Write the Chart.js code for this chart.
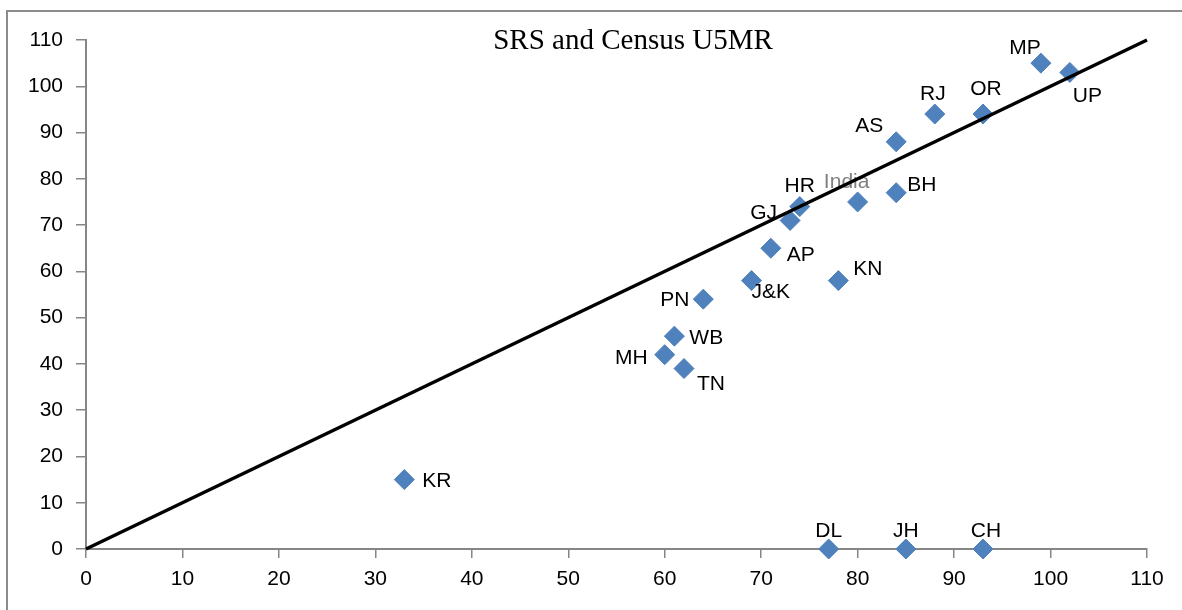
<!DOCTYPE html>
<html>
<head>
<meta charset="utf-8">
<script src="https://cdn.jsdelivr.net/npm/chart.js@4.4.1/dist/chart.umd.min.js"></script>
<style>
    html, body { margin: 0; padding: 0; background: #fff; }
    #wrap { width: 1182px; height: 610px; position: relative; }
</style>
</head>
<body>
<div id="wrap"><canvas id="u5mrChart" width="1182" height="610"></canvas></div>
<script>
// States and their under-five mortality rates (SRS on x, Census on y)
const states = ['KR', 'DL', 'JH', 'CH', 'MH', 'WB', 'TN', 'PN', 'J&K', 'AP',
                'GJ', 'HR', 'India', 'KN', 'BH', 'AS', 'RJ', 'OR', 'MP', 'UP'];
const srsU5MR = [33, 77, 85, 93, 60, 61, 62, 64, 69, 71,
                 73, 74, 80, 78, 84, 84, 88, 93, 99, 102];
const censusU5MR = [15, 0, 0, 0, 42, 46, 39, 54, 58, 65,
                    71, 74, 75, 58, 77, 88, 94, 94, 105, 103];

// Equality line end points
const equalityLine = [0, 110];
const axisMin = 0;
const axisMax = 110;
const axisStep = 10;

// Where each state label sits relative to its point: [dx, dy, align]
const labelPlacement = [
    [18, 2, 'left'], [0, -18, 'center'], [0, -18, 'center'], [3, -18, 'center'],
    [-17, 4, 'right'], [15, 2, 'left'], [13, 16, 'left'], [-14, 1, 'right'],
    [0, 12, 'left'], [16, 7, 'left'], [-13, -7, 'right'], [0, -20, 'center'],
    [-11, -20, 'center'], [15, -11, 'left'], [11, -7, 'left'], [-13, -16, 'right'],
    [-2, -20, 'center'], [3, -25, 'center'], [-16, -15, 'center'], [3, 24, 'left']
];

const AXIS_GRAY = '#868686';
const MARKER_BLUE = '#4F81BD';
const LABEL_FONT = '21px "Liberation Sans", Arial, sans-serif';

const points = srsU5MR.map((x, i) => ({ x: x, y: censusU5MR[i] }));
const linePoints = equalityLine.map(v => ({ x: v, y: v }));

// Frame + white background
const framePlugin = {
    id: 'frame',
    beforeDraw(chart) {
        const ctx = chart.ctx;
        ctx.save();
        ctx.fillStyle = '#fff';
        ctx.fillRect(0, 0, chart.width, chart.height);
        ctx.strokeStyle = '#8c8c8c';
        ctx.lineWidth = 2;
        ctx.beginPath();
        ctx.moveTo(7, chart.height);
        ctx.lineTo(7, 11);
        ctx.lineTo(chart.width, 11);
        ctx.stroke();
        ctx.restore();
    }
};

// State labels, drawn right after the markers so the line sits on top
const stateLabels = {
    id: 'stateLabels',
    afterDatasetDraw(chart, args) {
        if (args.index !== 1) return;
        const ctx = chart.ctx;
        const meta = chart.getDatasetMeta(1);
        ctx.save();
        ctx.font = LABEL_FONT;
        ctx.textBaseline = 'middle';
        meta.data.forEach((pt, i) => {
            const p = labelPlacement[i];
            ctx.textAlign = p[2];
            ctx.fillStyle = states[i] === 'India' ? '#7f7f7f' : '#000';
            ctx.fillText(states[i], pt.x + p[0], pt.y + p[1]);
        });
        ctx.restore();
    }
};

// Title placed inside the plot, as in the original
const titlePlugin = {
    id: 'plotTitle',
    afterDraw(chart) {
        const ctx = chart.ctx;
        ctx.save();
        ctx.font = '29px "Liberation Serif", "Times New Roman", serif';
        ctx.fillStyle = '#000';
        ctx.textAlign = 'center';
        ctx.textBaseline = 'middle';
        ctx.fillText('SRS and Census U5MR', 633, 41);
        ctx.restore();
    }
};

function axisOptions(isX) {
    return {
        type: 'linear',
        min: axisMin,
        max: axisMax,
        ticks: {
            stepSize: axisStep,
            color: '#000',
            font: { family: '"Liberation Sans", Arial, sans-serif', size: 21 },
            padding: isX ? 9 : 13,
            maxRotation: 0
        },
        grid: {
            display: true,
            drawOnChartArea: false,
            drawTicks: true,
            tickLength: isX ? 9 : 10,
            color: AXIS_GRAY,
            lineWidth: 1.5
        },
        border: { display: true, color: AXIS_GRAY, width: 2 },
        afterFit(scale) {
            if (isX) scale.height = 61;
            else scale.width = 86;
        }
    };
}

new Chart(document.getElementById('u5mrChart').getContext('2d'), {
    type: 'scatter',
    data: {
        datasets: [
            {
                label: 'Equality',
                data: linePoints,
                showLine: true,
                borderColor: '#000',
                borderWidth: 3.5,
                pointRadius: 0,
                order: 0,
                clip: false
            },
            {
                label: 'U5MR',
                data: points,
                pointStyle: 'rectRot',
                pointRadius: 10,
                pointHoverRadius: 10,
                backgroundColor: MARKER_BLUE,
                borderColor: MARKER_BLUE,
                borderWidth: 1,
                order: 1,
                clip: false
            }
        ]
    },
    options: {
        responsive: false,
        animation: false,
        layout: { padding: { top: 40, right: 35, bottom: 0, left: 0 } },
        plugins: {
            legend: { display: false },
            tooltip: { enabled: false },
            title: { display: false }
        },
        scales: {
            x: axisOptions(true),
            y: axisOptions(false)
        }
    },
    plugins: [framePlugin, stateLabels, titlePlugin]
});
</script>
</body>
</html>
